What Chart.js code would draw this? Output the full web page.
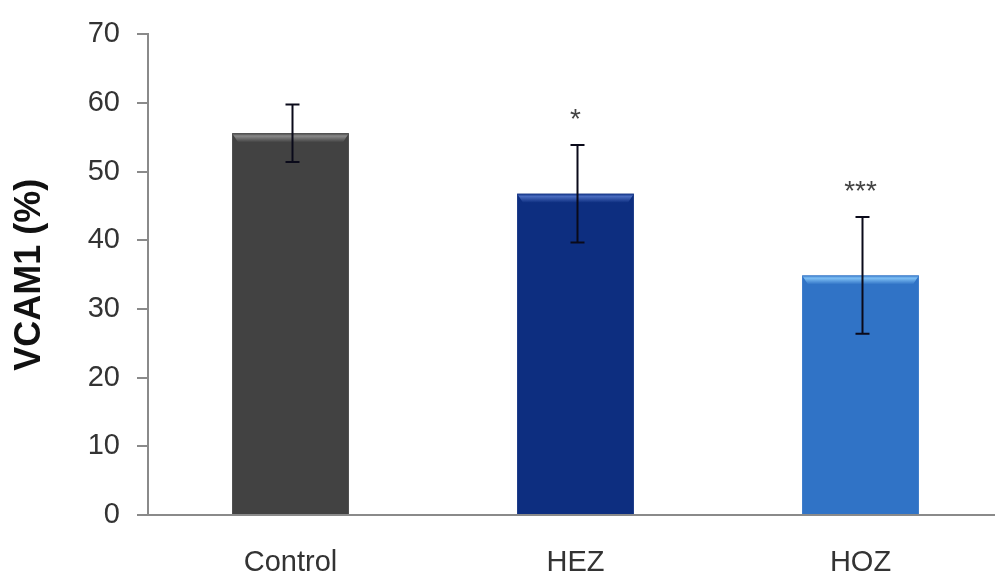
<!DOCTYPE html>
<html>
<head>
<meta charset="utf-8">
<script src="https://cdn.jsdelivr.net/npm/chart.js@4.4.1/dist/chart.umd.min.js"></script>
<style>
html,body{margin:0;padding:0;background:#fff;overflow:hidden;}
#wrap{width:1003px;height:575px;}
</style>
</head>
<body>
<div id="wrap"><canvas id="c" width="1003" height="575"></canvas></div>
<script>
const categories = ['Control', 'HEZ', 'HOZ'];
const means = [55.6, 46.8, 34.9];
const errors = [4.2, 7.1, 8.5];
const significance = ['', '*', '***'];
const yTicks = [0, 10, 20, 30, 40, 50, 60, 70];
const barColors = ['#424242', '#0d2e80', '#3073c6'];
const barTopColors = ['#8a8a8a', '#4a6cc0', '#7fc0f5'];

const FONT = '"Liberation Sans", Arial, sans-serif';

const bevelPlugin = {
  id: 'bevel',
  afterDatasetsDraw(chart) {
    const ctx = chart.ctx;
    const meta = chart.getDatasetMeta(0);
    ctx.save();
    meta.data.forEach((bar, i) => {
      const left = bar.x - bar.width / 2;
      const top = bar.y;
      const g = ctx.createLinearGradient(0, top, 0, top + 9);
      g.addColorStop(0, barColors[i]);
      g.addColorStop(0.3, barTopColors[i]);
      g.addColorStop(1, barColors[i]);
      ctx.fillStyle = g;
      ctx.beginPath();
      ctx.moveTo(left, top);
      ctx.lineTo(left + bar.width, top);
      ctx.lineTo(left + bar.width - 6, top + 9);
      ctx.lineTo(left + 6, top + 9);
      ctx.closePath();
      ctx.fill();
    });
    ctx.restore();
  }
};

const errorBarPlugin = {
  id: 'errorBars',
  afterDatasetsDraw(chart) {
    const ctx = chart.ctx;
    const meta = chart.getDatasetMeta(0);
    const y = chart.scales.y;
    ctx.save();
    meta.data.forEach((bar, i) => {
      const x = bar.x + 2;
      const top = y.getPixelForValue(means[i] + errors[i]);
      const bot = y.getPixelForValue(means[i] - errors[i]);
      ctx.strokeStyle = '#0a0a1a';
      ctx.lineWidth = 2;
      ctx.beginPath();
      ctx.moveTo(x, top); ctx.lineTo(x, bot);
      ctx.moveTo(x - 7, top); ctx.lineTo(x + 7, top);
      ctx.moveTo(x - 7, bot); ctx.lineTo(x + 7, bot);
      ctx.stroke();
      if (significance[i]) {
        ctx.fillStyle = '#444';
        ctx.font = '28px ' + FONT;
        ctx.textAlign = 'center';
        ctx.textBaseline = 'middle';
        ctx.fillText(significance[i], x - 2, top - 25);
      }
    });
    ctx.restore();
  }
};

new Chart(document.getElementById('c'), {
  type: 'bar',
  data: {
    labels: categories,
    datasets: [{
      data: means,
      backgroundColor: barColors,
      borderWidth: 0,
      categoryPercentage: 1.0,
      barPercentage: 0.41
    }]
  },
  options: {
    responsive: false,
    animation: false,
    layout: {padding: {top: 28, left: 0, right: 0, bottom: 0}},
    plugins: {legend: {display: false}, tooltip: {enabled: false}},
    scales: {
      x: {
        grid: {display: false, drawTicks: false},
        border: {display: true, color: '#8a8a8a', width: 2},
        ticks: {color: '#333', padding: 31, font: {family: FONT, size: 29}},
        afterFit(scale) { scale.height = 60; }
      },
      y: {
        min: 0, max: 70,
        afterBuildTicks(scale) { scale.ticks = yTicks.map(v => ({value: v})); },
        grid: {display: true, drawOnChartArea: false, drawTicks: true, tickLength: 11, color: '#8a8a8a', lineWidth: 2},
        border: {display: true, color: '#8a8a8a', width: 2},
        ticks: {color: '#333', padding: 17, font: {family: FONT, size: 29}},
        title: {display: true, text: 'VCAM1 (%)', color: '#111', padding: {top: 8, bottom: 0},
          font: {family: FONT, size: 36, weight: 'bold'}},
        afterFit(scale) { scale.width = 148; }
      }
    }
  },
  plugins: [bevelPlugin, errorBarPlugin]
});
</script>
</body>
</html>
